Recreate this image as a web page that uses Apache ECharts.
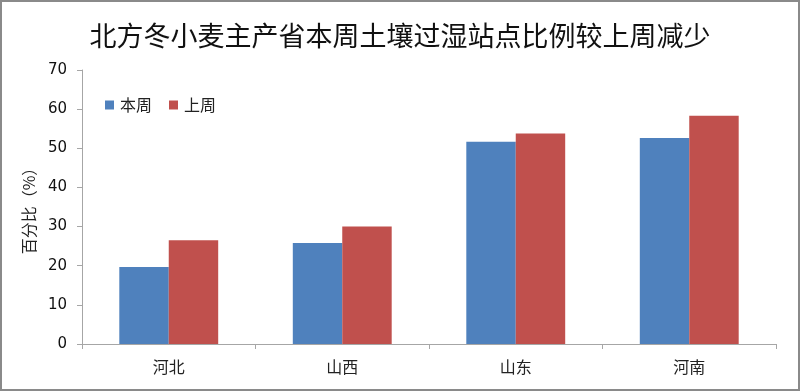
<!DOCTYPE html>
<html>
<head>
<meta charset="utf-8">
<script src="https://cdn.jsdelivr.net/npm/echarts@6/dist/echarts.min.js"></script>
<style>
html,body{margin:0;padding:0;background:#fff;}
#c{width:800px;height:391px;box-sizing:border-box;border:2px solid #8a8a8a;}
</style>
</head>
<body>
<div id="c"></div>
<script>
const categories = ['河北', '山西', '山东', '河南'];
const thisWeek = [19.7, 25.8, 51.7, 52.6];
const lastWeek = [26.5, 30.0, 53.8, 58.3];
const yTicks = { min: 0, max: 70, interval: 10 };

const chart = echarts.init(document.getElementById('c'), null, { renderer: 'canvas' });
const font = '"Noto Sans CJK SC", "Noto Sans", sans-serif';
chart.setOption({
  animation: false,
  textStyle: { fontFamily: font },
  title: {
    text: '北方冬小麦主产省本周土壤过湿站点比例较上周减少',
    left: 'center', top: 15,
    textStyle: { fontSize: 27, fontWeight: 'normal', color: '#111', fontFamily: font }
  },
  legend: {
    left: 98, top: 90, icon: 'rect', itemWidth: 9, itemHeight: 9, itemGap: 17,
    textStyle: { fontSize: 16, color: '#222', fontFamily: font, padding: [0, 0, 0, 1] },
    data: ['本周', '上周']
  },
  grid: { left: 80, right: 22, top: 68, bottom: 45 },
  xAxis: {
    type: 'category', data: categories,
    axisLine: { lineStyle: { color: '#a6a6a6', width: 1 } },
    axisTick: { show: true, length: 5, lineStyle: { color: '#a6a6a6' } },
    axisLabel: { fontSize: 16, color: '#222', margin: 15, fontFamily: font }
  },
  yAxis: {
    type: 'value', min: yTicks.min, max: yTicks.max, interval: yTicks.interval,
    name: '百分比（%）', nameLocation: 'middle', nameGap: 43, nameRotate: 90,
    nameTextStyle: { fontSize: 16, color: '#222', fontFamily: font },
    axisLine: { show: true, lineStyle: { color: '#a6a6a6', width: 1 } },
    axisTick: { show: true, length: 5, lineStyle: { color: '#a6a6a6' } },
    splitLine: { show: false },
    axisLabel: { fontSize: 15, color: '#111', margin: 15, fontFamily: '"DejaVu Sans", sans-serif' }
  },
  series: [
    { name: '本周', type: 'bar', data: thisWeek, barGap: '0%', barCategoryGap: '43%',
      itemStyle: { color: '#4F81BD' } },
    { name: '上周', type: 'bar', data: lastWeek, barGap: '0%', barCategoryGap: '43%',
      itemStyle: { color: '#C0504D' } }
  ]
});
</script>
</body>
</html>
